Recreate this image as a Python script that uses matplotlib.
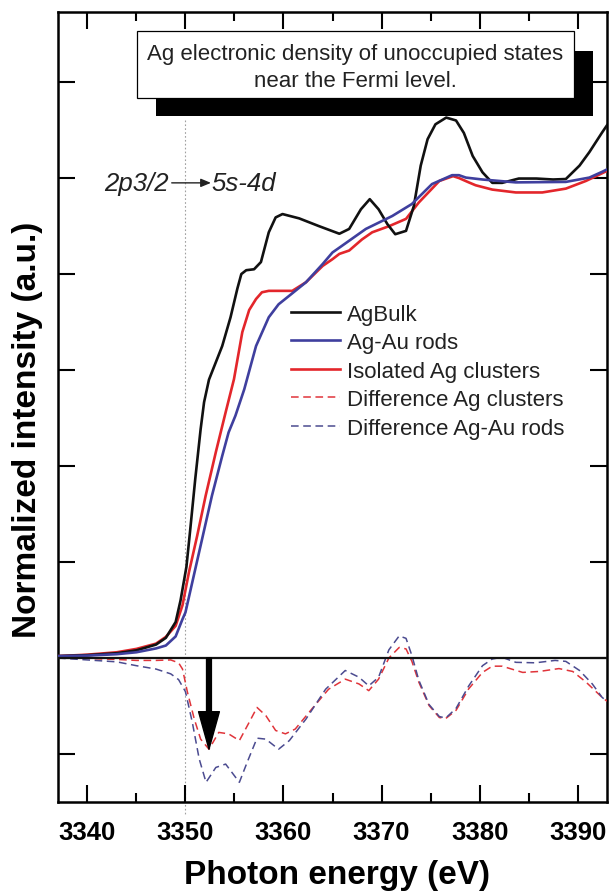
import matplotlib
matplotlib.use("Agg")
import matplotlib.pyplot as plt
from matplotlib.patches import Rectangle

plt.rcParams["font.family"] = ["Liberation Sans", "DejaVu Sans"]

# ---- data ----
x_bulk = [3337, 3340, 3343, 3345, 3347, 3348, 3349, 3349.5, 3350.1, 3350.5, 3351.0,
          3351.55, 3351.9, 3352.4, 3353.75, 3354.6, 3355.3, 3355.7, 3356.2, 3357.0,
          3357.7, 3358.5, 3359.2, 3359.9, 3361.6, 3363.6, 3365.7, 3366.7, 3367.9,
          3368.8, 3369.7, 3370.6, 3371.4, 3372.5, 3373.3, 3374.0, 3374.7, 3375.5,
          3376.6, 3377.6, 3378.4, 3379.3, 3380.3, 3381.3, 3382.3, 3384.0, 3385.8,
          3387.5, 3388.8, 3390.2, 3391.2, 3392.5, 3393]
y_bulk = [0.004, 0.006, 0.010, 0.016, 0.028, 0.042, 0.075, 0.12, 0.19, 0.27, 0.373,
          0.477, 0.533, 0.58, 0.65, 0.71, 0.77, 0.80, 0.808, 0.81,
          0.825, 0.887, 0.918, 0.925, 0.916, 0.90, 0.884, 0.894, 0.935,
          0.956, 0.935, 0.904, 0.883, 0.89, 0.942, 1.026, 1.081, 1.112,
          1.126, 1.12, 1.094, 1.046, 1.012, 0.99, 0.99, 0.999, 0.999,
          0.997, 0.998, 1.026, 1.054, 1.095, 1.11]

x_rods = [3337, 3340, 3343, 3345, 3347, 3348, 3349, 3349.7, 3350.0, 3350.7, 3351.7,
          3352.7, 3353.75, 3354.4, 3355.1, 3356.0, 3357.2, 3358.5, 3359.5, 3360.6,
          3362.3, 3364.0, 3365.0, 3365.7, 3368.4, 3371.1, 3373.1, 3375.15, 3377.2,
          3377.9, 3378.6, 3380.3, 3383.7, 3388.8, 3391.2, 3392.5, 3393]
y_rods = [0.004, 0.005, 0.008, 0.012, 0.020, 0.026, 0.045, 0.081, 0.095, 0.158, 0.248,
          0.338, 0.421, 0.47, 0.505, 0.56, 0.65, 0.71, 0.737, 0.755,
          0.783, 0.821, 0.845, 0.855, 0.894, 0.921, 0.946, 0.9875, 1.006,
          1.006, 1.001, 0.997, 0.991, 0.992, 1.001, 1.013, 1.018]

x_clust = [3337, 3340, 3343, 3345, 3347, 3348, 3349, 3349.7, 3350.36, 3351.2, 3352.06,
           3353.1, 3354.1, 3354.95, 3355.8, 3356.5, 3357.2, 3357.8, 3358.5, 3360.9,
           3362.3, 3364.0, 3365.0, 3365.7, 3366.7, 3368.0, 3369.05, 3370.8, 3372.5,
           3373.8, 3375.9, 3377.3, 3377.9, 3378.9, 3379.6, 3381.3, 3383.7, 3386.4,
           3388.8, 3390.85, 3392.5, 3393]
y_clust = [0.004, 0.007, 0.012, 0.019, 0.030, 0.044, 0.067, 0.11, 0.179, 0.255, 0.338,
           0.429, 0.512, 0.581, 0.679, 0.725, 0.748, 0.762, 0.765, 0.765,
           0.783, 0.817, 0.831, 0.842, 0.849, 0.872, 0.887, 0.90, 0.915,
           0.949, 0.994, 1.004, 1.0, 0.991, 0.985, 0.976, 0.97, 0.97,
           0.978, 0.994, 1.01, 1.015]

x_dclust = [3337, 3340, 3343, 3345, 3347, 3348.5, 3349.3, 3349.7, 3350.2, 3350.9, 3351.55,
            3352.4, 3353.4, 3354.4, 3355.5, 3356.5, 3357.3, 3358.2, 3359.2, 3360.2,
            3361.2, 3362.9, 3364.6, 3366.3, 3367.7, 3368.7, 3369.7, 3370.75, 3371.8,
            3372.5, 3373.1, 3373.8, 3374.85, 3375.9, 3376.55, 3377.6, 3378.9, 3380.3,
            3381.3, 3382.3, 3384.4, 3386.1, 3388.1, 3389.5, 3390.85, 3392.5, 3393]
y_dclust = [0.0, -0.001, -0.003, -0.005, -0.005, -0.004, -0.010, -0.023, -0.071, -0.127, -0.169,
            -0.19, -0.155, -0.158, -0.172, -0.134, -0.103, -0.12, -0.151, -0.158,
            -0.148, -0.106, -0.065, -0.044, -0.054, -0.068, -0.044, 0.0, 0.022,
            0.019, -0.007, -0.05, -0.099, -0.124, -0.126, -0.109, -0.064, -0.03,
            -0.017, -0.017, -0.03, -0.028, -0.022, -0.028, -0.05, -0.082, -0.09]

x_drods = [3337, 3340, 3343, 3345, 3347, 3348.5, 3349.3, 3350.0, 3350.7, 3351.4, 3352.1,
           3353.1, 3354.1, 3355.5, 3356.3, 3357.3, 3358.2, 3359.5, 3360.6, 3362.3,
           3364.3, 3366.3, 3367.7, 3368.7, 3369.7, 3370.75, 3371.8, 3372.5, 3373.1,
           3373.8, 3374.85, 3375.9, 3376.55, 3377.6, 3378.9, 3380.3, 3381.3, 3382.3,
           3383.7, 3385.7, 3387.7, 3388.8, 3390.2, 3391.5, 3392.5, 3393]
y_drods = [0.0, -0.004, -0.008, -0.016, -0.023, -0.033, -0.045, -0.07, -0.134, -0.21, -0.259,
           -0.228, -0.221, -0.259, -0.217, -0.167, -0.169, -0.19, -0.172, -0.127,
           -0.065, -0.026, -0.04, -0.058, -0.04, 0.017, 0.046, 0.041, 0.005,
           -0.046, -0.097, -0.122, -0.125, -0.105, -0.058, -0.016, -0.002, 0.0015,
           -0.009, -0.01, -0.005, -0.007, -0.026, -0.054, -0.082, -0.09]

labels = ["AgBulk", "Ag-Au rods", "Isolated Ag clusters",
          "Difference Ag clusters", "Difference Ag-Au rods"]
x_ticks = [3340, 3350, 3360, 3370, 3380, 3390]
y_ticks = [-0.2, 0.0, 0.2, 0.4, 0.6, 0.8, 1.0, 1.2]

BLACK = "#111111"
RED = "#e3262b"
BLUE = "#3f3f9e"
DRED = "#e0343a"
DBLUE = "#4b4b90"
TXT = "#222222"

fig = plt.figure(figsize=(6.13, 8.95), dpi=100)
ax = fig.add_axes([58 / 613, 1 - 803 / 895, 549 / 613, 790 / 895])

ax.plot(x_bulk, y_bulk, color=BLACK, lw=1.9, label=labels[0], zorder=4)
ax.plot(x_rods, y_rods, color=BLUE, lw=1.9, label=labels[1], zorder=4)
ax.plot(x_clust, y_clust, color=RED, lw=1.9, label=labels[2], zorder=3)
ax.plot(x_dclust, y_dclust, color=DRED, lw=1.1, ls=(0, (5, 3)), label=labels[3], zorder=3)
ax.plot(x_drods, y_drods, color=DBLUE, lw=1.1, ls=(0, (5, 3)), label=labels[4], zorder=3)

ax.axhline(0, color=BLACK, lw=1.6, zorder=5)
ax.plot([3350, 3350], [1.12, -0.33], color="#a0a0a0", lw=0.8, ls=(0, (1.5, 2)),
        zorder=1, clip_on=False)

# big arrow in the difference panel
ax.annotate("", xy=(3352.4, -0.19), xytext=(3352.4, 0.0),
            arrowprops=dict(arrowstyle="simple,head_length=2.7,head_width=1.5,tail_width=0.35",
                            mutation_scale=10, color="black", shrinkA=0, shrinkB=0),
            zorder=6)

# 2p3/2 -> 5s-4d
ax.text(3348.3, 0.99, "2p3/2", style="italic", fontsize=18.5, color=TXT,
        ha="right", va="center")
ax.text(3352.7, 0.99, "5s-4d", style="italic", fontsize=18.5, color=TXT,
        ha="left", va="center")
ax.annotate("", xy=(3352.6, 0.99), xytext=(3348.6, 0.99),
            arrowprops=dict(arrowstyle="-|>,head_length=0.6,head_width=0.25",
                            color=TXT, lw=1.0, shrinkA=0, shrinkB=0))

# boxed note with heavy shadow
ax.add_patch(Rectangle((3346.96, 1.13), 44.6, 0.135, facecolor="black",
                       edgecolor="none", zorder=7))
ax.add_patch(Rectangle((3345.03, 1.1667), 44.6, 0.139, facecolor="white",
                       edgecolor="black", lw=0.9, zorder=8))
ax.text(3367.3, 1.231, "Ag electronic density of unoccupied states\nnear the Fermi level.",
        ha="center", va="center", fontsize=16, color=TXT, zorder=9,
        linespacing=1.4)

ax.set_xlim(3337, 3393)
ax.set_ylim(-0.3, 1.346)
ax.set_xticks(x_ticks)
ax.set_xticks(list(range(3345, 3393, 10)), minor=True)
ax.set_yticks(y_ticks)
ax.tick_params(which="both", direction="in", top=True, right=True, width=1.5)
ax.tick_params(which="major", length=12)
ax.tick_params(which="minor", length=6.5)
ax.tick_params(axis="y", labelleft=False)
ax.tick_params(axis="x", pad=13, labelsize=18.5)
for lab in ax.get_xticklabels():
    lab.set_fontweight("bold")
for sp in ax.spines.values():
    sp.set_linewidth(1.8)

leg = ax.legend(loc="upper left", bbox_to_anchor=(0.4244, 0.631), frameon=False,
                fontsize=16, handlelength=2.2, handletextpad=0.3,
                labelspacing=0.34, borderpad=0, borderaxespad=0)
for t in leg.get_texts():
    t.set_color(TXT)

fig.text(337.5 / 613, 1 - 876 / 895, "Photon energy (eV)", ha="center", va="center",
         fontsize=24, fontweight="bold")
fig.text(28 / 613, 1 - 430 / 895, "Normalized intensity (a.u.)", ha="center",
         va="center", rotation=90, fontsize=24, fontweight="bold")

fig.savefig("out.png", dpi=100)
